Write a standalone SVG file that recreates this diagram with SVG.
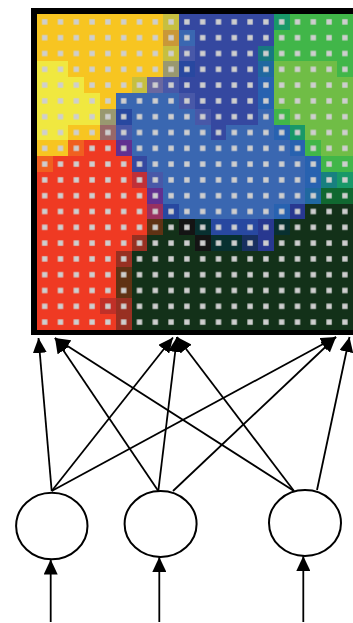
<svg xmlns="http://www.w3.org/2000/svg" width="353" height="623" viewBox="0 0 353 623">
<style>
.Y{fill:#F7C521}.L{fill:#F0E840}.a{fill:#C6BF40}.b{fill:#C99838}.c{fill:#999870}.d{fill:#6A68A0}
.D{fill:#3548A0}.P{fill:#4858A8}.B{fill:#3A67B1}.N{fill:#2848A0}.M{fill:#996868}.O{fill:#F06020}
.R{fill:#EF3A23}.U{fill:#613090}.T{fill:#189868}.G{fill:#41B649}.H{fill:#70BD46}.t{fill:#187880}
.e{fill:#2068A0}.f{fill:#2862B0}.r{fill:#C03038}.m{fill:#983060}.w{fill:#603214}.K{fill:#133119}
.k{fill:#141414}.q{fill:#983022}.s{fill:#C03028}.u{fill:#188080}.g{fill:#106830}.n{fill:#283890}
.z{fill:#083030}.v{fill:#183060}
.node{fill:#fff;stroke:#000;stroke-width:2}
.conn line{stroke:#000;stroke-width:1.8;marker-end:url(#ah)}
</style>
<defs>
<marker id="ah" markerUnits="userSpaceOnUse" markerWidth="15" markerHeight="14" viewBox="0 0 15 14" refX="15" refY="7" orient="auto">
<path d="M0,0 L15,7 L0,14 z" fill="#000"/>
</marker>
<pattern id="dots" patternUnits="userSpaceOnUse" x="36.8" y="14" width="15.8" height="15.8">
<rect x="5.2" y="5.2" width="5.4" height="5.4" fill="#CECECE"/>
</pattern>
</defs>
<rect width="353" height="623" fill="#fff"/>
<g id="map">
<rect x="31" y="8" width="330" height="327" fill="#000"/>
<g shape-rendering="crispEdges">
<!-- row 0 -->
<rect class="Y" x="36.8" y="14" width="126.4" height="15.8"/>
<rect class="a" x="163.2" y="14" width="15.8" height="15.8"/>
<rect class="D" x="179" y="14" width="94.8" height="15.8"/>
<rect class="T" x="273.8" y="14" width="15.8" height="15.8"/>
<rect class="G" x="289.6" y="14" width="63.2" height="15.8"/>
<!-- row 1 -->
<rect class="Y" x="36.8" y="29.8" width="126.4" height="15.8"/>
<rect class="b" x="163.2" y="29.8" width="15.8" height="15.8"/>
<rect class="B" x="179" y="29.8" width="15.8" height="15.8"/>
<rect class="D" x="194.8" y="29.8" width="79" height="15.8"/>
<rect class="G" x="273.8" y="29.8" width="79" height="15.8"/>
<!-- row 2 -->
<rect class="Y" x="36.8" y="45.6" width="126.4" height="15.8"/>
<rect class="a" x="163.2" y="45.6" width="15.8" height="15.8"/>
<rect class="P" x="179" y="45.6" width="15.8" height="15.8"/>
<rect class="D" x="194.8" y="45.6" width="63.2" height="15.8"/>
<rect class="t" x="258" y="45.6" width="15.8" height="15.8"/>
<rect class="G" x="273.8" y="45.6" width="79" height="15.8"/>
<!-- row 3 -->
<rect class="L" x="36.8" y="61.4" width="31.6" height="15.8"/>
<rect class="Y" x="68.4" y="61.4" width="94.8" height="15.8"/>
<rect class="c" x="163.2" y="61.4" width="15.8" height="15.8"/>
<rect class="N" x="179" y="61.4" width="15.8" height="15.8"/>
<rect class="D" x="194.8" y="61.4" width="63.2" height="15.8"/>
<rect class="e" x="258" y="61.4" width="15.8" height="15.8"/>
<rect class="H" x="273.8" y="61.4" width="63.2" height="15.8"/>
<rect class="G" x="337" y="61.4" width="15.8" height="15.8"/>
<!-- row 4 -->
<rect class="L" x="36.8" y="77.2" width="47.4" height="15.8"/>
<rect class="Y" x="84.2" y="77.2" width="47.4" height="15.8"/>
<rect class="a" x="131.6" y="77.2" width="15.8" height="15.8"/>
<rect class="d" x="147.4" y="77.2" width="15.8" height="15.8"/>
<rect class="P" x="163.2" y="77.2" width="15.8" height="15.8"/>
<rect class="D" x="179" y="77.2" width="79" height="15.8"/>
<rect class="f" x="258" y="77.2" width="15.8" height="15.8"/>
<rect class="H" x="273.8" y="77.2" width="79" height="15.8"/>
<!-- row 5 -->
<rect class="L" x="36.8" y="93" width="63.2" height="15.8"/>
<rect class="Y" x="100" y="93" width="15.8" height="15.8"/>
<rect class="B" x="115.8" y="93" width="63.2" height="15.8"/>
<rect class="P" x="179" y="93" width="15.8" height="15.8"/>
<rect class="D" x="194.8" y="93" width="63.2" height="15.8"/>
<rect class="f" x="258" y="93" width="15.8" height="15.8"/>
<rect class="H" x="273.8" y="93" width="79" height="15.8"/>
<!-- row 6 -->
<rect class="L" x="36.8" y="108.8" width="63.2" height="15.8"/>
<rect class="c" x="100" y="108.8" width="15.8" height="15.8"/>
<rect class="N" x="115.8" y="108.8" width="15.8" height="15.8"/>
<rect class="B" x="131.6" y="108.8" width="63.2" height="15.8"/>
<rect class="P" x="194.8" y="108.8" width="15.8" height="15.8"/>
<rect class="D" x="210.6" y="108.8" width="47.4" height="15.8"/>
<rect class="B" x="258" y="108.8" width="15.8" height="15.8"/>
<rect class="G" x="273.8" y="108.8" width="15.8" height="15.8"/>
<rect class="H" x="289.6" y="108.8" width="63.2" height="15.8"/>
<!-- row 7 -->
<rect class="L" x="36.8" y="124.6" width="31.6" height="15.8"/>
<rect class="Y" x="68.4" y="124.6" width="31.6" height="15.8"/>
<rect class="M" x="100" y="124.6" width="15.8" height="15.8"/>
<rect class="P" x="115.8" y="124.6" width="15.8" height="15.8"/>
<rect class="B" x="131.6" y="124.6" width="79" height="15.8"/>
<rect class="D" x="210.6" y="124.6" width="15.8" height="15.8"/>
<rect class="B" x="226.4" y="124.6" width="47.4" height="15.8"/>
<rect class="f" x="273.8" y="124.6" width="15.8" height="15.8"/>
<rect class="T" x="289.6" y="124.6" width="15.8" height="15.8"/>
<rect class="H" x="305.4" y="124.6" width="47.4" height="15.8"/>
<!-- row 8 -->
<rect class="Y" x="36.8" y="140.4" width="31.6" height="15.8"/>
<rect class="O" x="68.4" y="140.4" width="15.8" height="15.8"/>
<rect class="R" x="84.2" y="140.4" width="31.6" height="15.8"/>
<rect class="U" x="115.8" y="140.4" width="15.8" height="15.8"/>
<rect class="B" x="131.6" y="140.4" width="158" height="15.8"/>
<rect class="f" x="289.6" y="140.4" width="15.8" height="15.8"/>
<rect class="G" x="305.4" y="140.4" width="15.8" height="15.8"/>
<rect class="H" x="321.2" y="140.4" width="31.6" height="15.8"/>
<!-- row 9 -->
<rect class="O" x="36.8" y="156.2" width="15.8" height="15.8"/>
<rect class="R" x="52.6" y="156.2" width="79" height="15.8"/>
<rect class="D" x="131.6" y="156.2" width="15.8" height="15.8"/>
<rect class="B" x="147.4" y="156.2" width="158" height="15.8"/>
<rect class="f" x="305.4" y="156.2" width="15.8" height="15.8"/>
<rect class="G" x="321.2" y="156.2" width="31.6" height="15.8"/>
<!-- row 10 -->
<rect class="R" x="36.8" y="172" width="94.8" height="15.8"/>
<rect class="r" x="131.6" y="172" width="15.8" height="15.8"/>
<rect class="P" x="147.4" y="172" width="15.8" height="15.8"/>
<rect class="B" x="163.2" y="172" width="142.2" height="15.8"/>
<rect class="f" x="305.4" y="172" width="15.8" height="15.8"/>
<rect class="u" x="321.2" y="172" width="15.8" height="15.8"/>
<rect class="T" x="337" y="172" width="15.8" height="15.8"/>
<!-- row 11 -->
<rect class="R" x="36.8" y="187.8" width="110.6" height="15.8"/>
<rect class="U" x="147.4" y="187.8" width="15.8" height="15.8"/>
<rect class="B" x="163.2" y="187.8" width="142.2" height="15.8"/>
<rect class="e" x="305.4" y="187.8" width="15.8" height="15.8"/>
<rect class="g" x="321.2" y="187.8" width="31.6" height="15.8"/>
<!-- row 12 -->
<rect class="R" x="36.8" y="203.6" width="110.6" height="15.8"/>
<rect class="m" x="147.4" y="203.6" width="15.8" height="15.8"/>
<rect class="N" x="163.2" y="203.6" width="15.8" height="15.8"/>
<rect class="B" x="179" y="203.6" width="94.8" height="15.8"/>
<rect class="f" x="273.8" y="203.6" width="15.8" height="15.8"/>
<rect class="n" x="289.6" y="203.6" width="15.8" height="15.8"/>
<rect class="K" x="305.4" y="203.6" width="47.4" height="15.8"/>
<!-- row 13 -->
<rect class="R" x="36.8" y="219.4" width="110.6" height="15.8"/>
<rect class="w" x="147.4" y="219.4" width="15.8" height="15.8"/>
<rect class="K" x="163.2" y="219.4" width="15.8" height="15.8"/>
<rect class="k" x="179" y="219.4" width="15.8" height="15.8"/>
<rect class="z" x="194.8" y="219.4" width="15.8" height="15.8"/>
<rect class="N" x="210.6" y="219.4" width="47.4" height="15.8"/>
<rect class="n" x="258" y="219.4" width="15.8" height="15.8"/>
<rect class="z" x="273.8" y="219.4" width="15.8" height="15.8"/>
<rect class="K" x="289.6" y="219.4" width="63.2" height="15.8"/>
<!-- row 14 -->
<rect class="R" x="36.8" y="235.2" width="94.8" height="15.8"/>
<rect class="q" x="131.6" y="235.2" width="15.8" height="15.8"/>
<rect class="K" x="147.4" y="235.2" width="47.4" height="15.8"/>
<rect class="k" x="194.8" y="235.2" width="15.8" height="15.8"/>
<rect class="z" x="210.6" y="235.2" width="31.6" height="15.8"/>
<rect class="v" x="242.2" y="235.2" width="15.8" height="15.8"/>
<rect class="n" x="258" y="235.2" width="15.8" height="15.8"/>
<rect class="K" x="273.8" y="235.2" width="79" height="15.8"/>
<!-- rows 15-19 -->
<rect class="R" x="36.8" y="251" width="79" height="79"/>
<rect class="K" x="131.6" y="251" width="221.2" height="79"/>
<rect class="q" x="115.8" y="251" width="15.8" height="15.8"/>
<rect class="w" x="115.8" y="266.8" width="15.8" height="31.6"/>
<rect class="s" x="100" y="298.4" width="15.8" height="15.8"/>
<rect class="q" x="115.8" y="298.4" width="15.8" height="31.6"/>
</g>
<rect x="36.8" y="14" width="316" height="316" fill="url(#dots)"/>
</g>
<g id="input1"><ellipse class="node" cx="51.8" cy="526" rx="35.7" ry="33.3"/></g>
<g id="input2"><ellipse class="node" cx="160.6" cy="524" rx="36" ry="33"/></g>
<g id="input3"><ellipse class="node" cx="305" cy="523" rx="36" ry="33"/></g>
<g id="connectors" class="conn">
<line x1="50.7" y1="622" x2="50.7" y2="559.5"/>
<line x1="159.3" y1="622" x2="159.3" y2="557"/>
<line x1="303.3" y1="622" x2="303.3" y2="556"/>
<line x1="51.7" y1="491" x2="38.5" y2="338"/>
<line x1="51.7" y1="491" x2="173" y2="337.5"/>
<line x1="51.7" y1="491" x2="336" y2="337"/>
<line x1="158.3" y1="491" x2="55" y2="338"/>
<line x1="158.3" y1="491" x2="177" y2="337"/>
<line x1="173" y1="491" x2="336" y2="337"/>
<line x1="294" y1="491" x2="55" y2="338"/>
<line x1="294" y1="491" x2="177" y2="337"/>
<line x1="317" y1="490" x2="349.5" y2="337"/>
</g>
</svg>
